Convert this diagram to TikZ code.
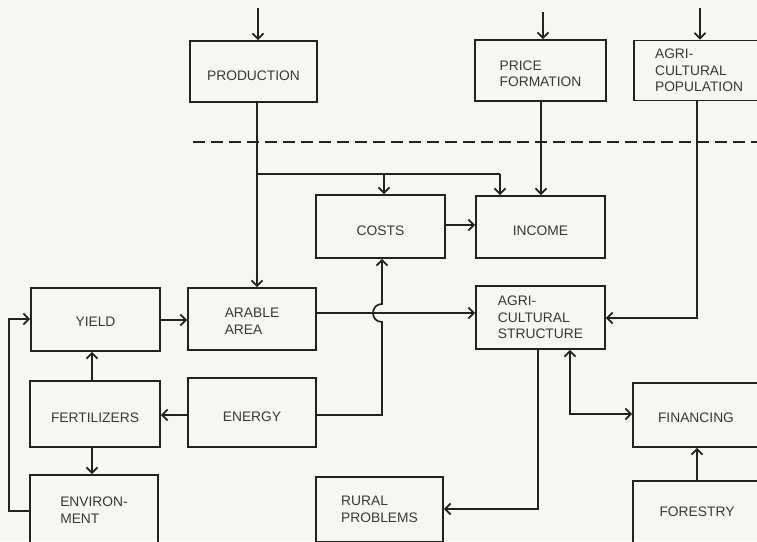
\documentclass[tikz,border=0pt]{standalone}
\usepackage{fontspec}
\setmainfont{Liberation Sans}
\usetikzlibrary{arrows.meta}
\definecolor{paper}{HTML}{F6F6F3}
\definecolor{ink}{HTML}{222222}
\definecolor{txt}{HTML}{383838}
\newcommand\lowtxt[2][4pt]{\raisebox{-#1}[\height][0pt]{#2}}
\begin{document}
\begin{tikzpicture}[x=1pt,y=-1pt,
  box/.style={draw=ink,line width=1.7pt,rectangle,inner sep=0pt,align=left,
    text=txt,font=\fontsize{13.8}{16.5}\selectfont},
  conn/.style={draw=ink,line width=1.7pt},
  arr/.style={conn,-{Straight Barb[length=5.5pt,width=11pt,line width=1.8pt]}},
  darr/.style={conn,{Straight Barb[length=5.5pt,width=11pt,line width=1.8pt]}-{Straight Barb[length=5.5pt,width=11pt,line width=1.8pt]}}]
\useasboundingbox (0,0) rectangle (757,541);
\fill[paper] (0,0) rectangle (757,541);
\clip (0,0) rectangle (757,541);

% boxes
\node[box,minimum width=127pt,minimum height=61pt] (prod) at (253.5,71.5) {\lowtxt{PRODUCTION}};
\node[box,minimum width=131pt,minimum height=61pt] (price) at (540.5,70.5) {\lowtxt[3pt]{PRICE}\\\lowtxt[3pt]{FORMATION}};
\node[box,minimum width=130pt,minimum height=60pt] (pop) at (699,70.5) {AGRI-\\CULTURAL\\POPULATION};
\node[box,minimum width=129pt,minimum height=63pt] (costs) at (380.5,226.5) {\lowtxt{COSTS}};
\node[box,minimum width=129pt,minimum height=62pt] (income) at (540.5,227) {\lowtxt{INCOME}};
\node[box,minimum width=129pt,minimum height=63pt] (yield) at (95.5,319.5) {\lowtxt[2pt]{YIELD}};
\node[box,minimum width=128pt,minimum height=62pt] (arable) at (252,319) {\lowtxt[2pt]{ARABLE}\\\lowtxt[2pt]{AREA}};
\node[box,minimum width=129pt,minimum height=63pt] (struct) at (540.5,317.5) {AGRI-\\CULTURAL\\STRUCTURE};
\node[box,minimum width=130pt,minimum height=66pt] (fert) at (95,414) {\lowtxt{FERTILIZERS}};
\node[box,minimum width=128pt,minimum height=69pt] (energy) at (252,412.5) {\lowtxt{ENERGY}};
\node[box,minimum width=126pt,minimum height=64pt] (fin) at (696,415) {\lowtxt[3pt]{FINANCING}};
\node[box,minimum width=128pt,minimum height=70pt] (env) at (94,510) {ENVIRON-\\MENT};
\node[box,minimum width=127pt,minimum height=65pt] (rural) at (379.5,509.5) {RURAL\\PROBLEMS};
\node[box,minimum width=128pt,minimum height=62pt] (forest) at (697,512) {FORESTRY};

% helper coordinates
\coordinate (inprod) at (258,8);
\coordinate (inprice) at (543,12);
\coordinate (inpop) at (700,8);
\coordinate (xA) at (257,0);
\coordinate (xC) at (384,0);
\coordinate (xI) at (500,0);
\coordinate (xP) at (541,0);
\coordinate (xQ) at (697,0);
\coordinate (xH) at (382,0);
\coordinate (xF) at (92,0);
\coordinate (xS) at (538,0);
\coordinate (xD) at (570,0);
\coordinate (xL) at (9,0);
\coordinate (yB) at (0,174);
\coordinate (yCI) at (0,225);
\coordinate (yYA) at (0,320);
\coordinate (yAS) at (0,313);
\coordinate (yPS) at (0,318);
\coordinate (yE) at (0,415);
\coordinate (yR) at (0,509);
\coordinate (yFi) at (0,414);
\coordinate (yEnv) at (0,511);
\coordinate (yY) at (0,319);
\coordinate (hb) at (382,322);
\coordinate (ht) at (382,304);

% dashed boundary
\draw[ink,line width=2pt,dash pattern=on 12pt off 6pt] (193,142) -- (757,142);

% inputs from above
\draw[arr] (inprod) -- (prod.north -| inprod);
\draw[arr] (inprice) -- (price.north -| inprice);
\draw[arr] (inpop) -- (pop.north -| inpop);

% production
\draw[arr] (prod.south -| xA) -- (arable.north -| xA);
\draw[conn] (xA |- yB) -- (xI |- yB);
\draw[arr] (xC |- yB) -- (costs.north -| xC);
\draw[arr] (xI |- yB) -- (income.north -| xI);

% price -> income
\draw[arr] (price.south -| xP) -- (income.north -| xP);

% population -> structure
\draw[arr] (pop.south -| xQ) -- (xQ |- yPS) -- (struct.east |- yPS);

% costs -> income
\draw[arr] (costs.east |- yCI) -- (income.west |- yCI);

% yield -> arable
\draw[arr] (yield.east |- yYA) -- (arable.west |- yYA);

% arable -> structure
\draw[arr] (arable.east |- yAS) -- (struct.west |- yAS);

% energy -> costs (with hop)
\draw[arr] (energy.east |- yE) -- (xH |- yE) -- (hb)
  .. controls (370,322) and (370,304) .. (ht) -- (costs.south -| xH);

% energy -> fertilizers
\draw[arr] (energy.west |- yE) -- (fert.east |- yE);

% fertilizers -> yield, environment
\draw[arr] (fert.north -| xF) -- (yield.south -| xF);
\draw[arr] (fert.south -| xF) -- (env.north -| xF);

% environment -> yield
\draw[arr] (env.west |- yEnv) -- (xL |- yEnv) -- (xL |- yY) -- (yield.west |- yY);

% structure -> rural problems
\draw[arr] (struct.south -| xS) -- (xS |- yR) -- (rural.east |- yR);

% structure <-> financing
\draw[darr] (struct.south -| xD) -- (xD |- yFi) -- (fin.west |- yFi);

% forestry -> financing
\draw[arr] (forest.north -| xQ) -- (fin.south -| xQ);
\end{tikzpicture}
\end{document}
